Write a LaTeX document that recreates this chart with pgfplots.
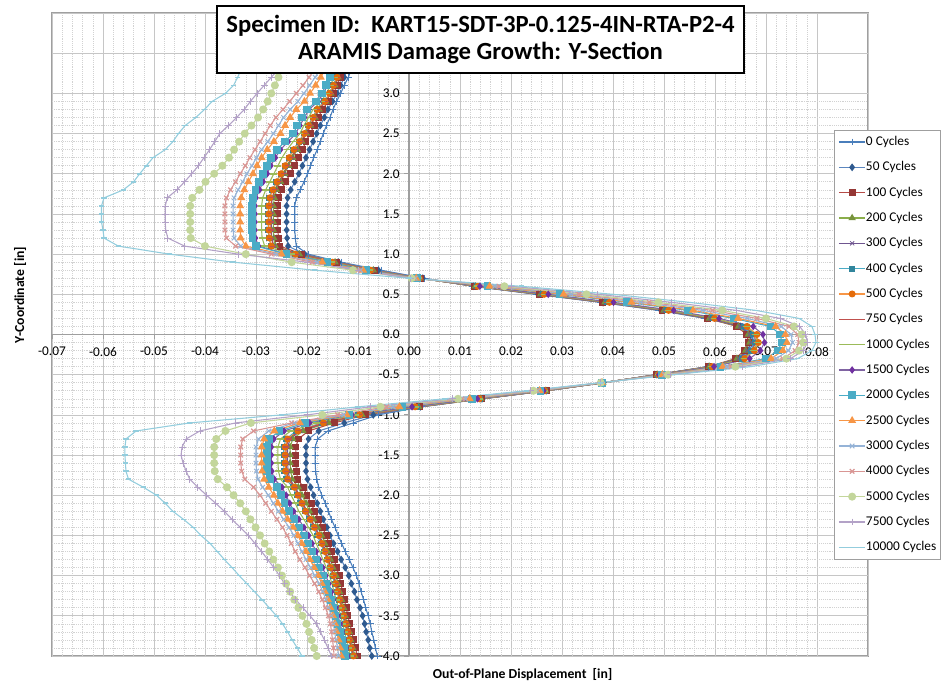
\documentclass[border=0pt]{standalone}
\usepackage{pgfplots}
\pgfplotsset{compat=1.18}
\usepackage{pgfplotstable}
\usepackage{fontspec}
\setmainfont{Carlito}
\definecolor{col0}{HTML}{4A7EBB}
\definecolor{col50}{HTML}{5B86BF}
\definecolor{col50m}{HTML}{2F5A8F}
\definecolor{col100}{HTML}{B54B47}
\definecolor{col100m}{HTML}{953735}
\definecolor{col200}{HTML}{8AAE4A}
\definecolor{col200m}{HTML}{77933C}
\definecolor{col300}{HTML}{6F5590}
\definecolor{col400}{HTML}{4BACC6}
\definecolor{col400m}{HTML}{31859C}
\definecolor{col500}{HTML}{F79646}
\definecolor{col500m}{HTML}{E46C0A}
\definecolor{col750}{HTML}{C0504D}
\definecolor{col1000}{HTML}{9BBB59}
\definecolor{col1500}{HTML}{8064A2}
\definecolor{col1500m}{HTML}{7030A0}
\definecolor{col2000}{HTML}{4BACC6}
\definecolor{col2500}{HTML}{F79646}
\definecolor{col3000}{HTML}{95B3D7}
\definecolor{col4000}{HTML}{D99694}
\definecolor{col5000}{HTML}{C3D69B}
\definecolor{col7500}{HTML}{B3A2C7}
\definecolor{col10000}{HTML}{93CDDD}

\pgfplotstableread{
y c0 c50 c100 c200 c300 c400 c500 c750 c1000 c1500 c2000 c2500 c3000 c4000 c5000 c7500 c10000
3.3 -0.0113 -0.0121 -0.0128 -0.0132 -0.0133 -0.0135 -0.0134 -0.0132 -0.0140 -0.0145 -0.0148 -0.0165 -0.0174 -0.0185 -0.0248 -0.0256 -0.0329
3.2 -0.0119 -0.0127 -0.0135 -0.0139 -0.0140 -0.0142 -0.0141 -0.0139 -0.0147 -0.0152 -0.0155 -0.0173 -0.0184 -0.0196 -0.0256 -0.0270 -0.0336
3.1 -0.0127 -0.0134 -0.0141 -0.0145 -0.0147 -0.0149 -0.0148 -0.0146 -0.0154 -0.0160 -0.0163 -0.0183 -0.0195 -0.0208 -0.0263 -0.0284 -0.0344
3.0 -0.0134 -0.0141 -0.0148 -0.0153 -0.0154 -0.0156 -0.0156 -0.0153 -0.0162 -0.0168 -0.0171 -0.0194 -0.0206 -0.0221 -0.0270 -0.0298 -0.0360
2.9 -0.0142 -0.0150 -0.0158 -0.0163 -0.0164 -0.0166 -0.0165 -0.0163 -0.0172 -0.0178 -0.0182 -0.0205 -0.0218 -0.0234 -0.0277 -0.0311 -0.0386
2.8 -0.0149 -0.0159 -0.0170 -0.0176 -0.0178 -0.0181 -0.0180 -0.0177 -0.0188 -0.0196 -0.0200 -0.0221 -0.0233 -0.0247 -0.0286 -0.0323 -0.0401
2.7 -0.0155 -0.0166 -0.0178 -0.0184 -0.0186 -0.0189 -0.0188 -0.0185 -0.0197 -0.0205 -0.0210 -0.0233 -0.0246 -0.0261 -0.0296 -0.0338 -0.0418
2.6 -0.0162 -0.0174 -0.0186 -0.0193 -0.0194 -0.0198 -0.0197 -0.0193 -0.0206 -0.0214 -0.0219 -0.0243 -0.0256 -0.0272 -0.0309 -0.0354 -0.0439
2.5 -0.0168 -0.0181 -0.0194 -0.0201 -0.0202 -0.0206 -0.0205 -0.0201 -0.0214 -0.0222 -0.0227 -0.0252 -0.0266 -0.0282 -0.0322 -0.0371 -0.0452
2.4 -0.0174 -0.0188 -0.0202 -0.0210 -0.0212 -0.0216 -0.0215 -0.0211 -0.0227 -0.0237 -0.0243 -0.0265 -0.0277 -0.0292 -0.0333 -0.0381 -0.0463
2.3 -0.0180 -0.0195 -0.0209 -0.0219 -0.0222 -0.0227 -0.0226 -0.0221 -0.0239 -0.0252 -0.0259 -0.0278 -0.0289 -0.0302 -0.0343 -0.0391 -0.0478
2.2 -0.0187 -0.0202 -0.0217 -0.0228 -0.0230 -0.0236 -0.0235 -0.0229 -0.0249 -0.0262 -0.0270 -0.0289 -0.0299 -0.0312 -0.0353 -0.0402 -0.0502
2.1 -0.0193 -0.0209 -0.0225 -0.0236 -0.0239 -0.0244 -0.0243 -0.0238 -0.0257 -0.0271 -0.0279 -0.0298 -0.0308 -0.0321 -0.0366 -0.0413 -0.0515
2.0 -0.0199 -0.0216 -0.0233 -0.0244 -0.0246 -0.0252 -0.0251 -0.0245 -0.0265 -0.0278 -0.0286 -0.0306 -0.0318 -0.0331 -0.0382 -0.0426 -0.0528
1.9 -0.0206 -0.0224 -0.0242 -0.0252 -0.0255 -0.0260 -0.0259 -0.0254 -0.0273 -0.0286 -0.0294 -0.0315 -0.0326 -0.0340 -0.0399 -0.0440 -0.0540
1.8 -0.0213 -0.0232 -0.0250 -0.0260 -0.0263 -0.0268 -0.0267 -0.0262 -0.0281 -0.0293 -0.0301 -0.0323 -0.0335 -0.0350 -0.0411 -0.0455 -0.0560
1.7 -0.0221 -0.0238 -0.0255 -0.0264 -0.0268 -0.0274 -0.0273 -0.0269 -0.0287 -0.0300 -0.0306 -0.0329 -0.0343 -0.0358 -0.0425 -0.0474 -0.0598
1.6 -0.0224 -0.0240 -0.0257 -0.0266 -0.0270 -0.0276 -0.0275 -0.0271 -0.0289 -0.0302 -0.0308 -0.0331 -0.0345 -0.0361 -0.0429 -0.0478 -0.0603
1.5 -0.0224 -0.0240 -0.0257 -0.0266 -0.0270 -0.0276 -0.0275 -0.0271 -0.0289 -0.0302 -0.0308 -0.0331 -0.0345 -0.0361 -0.0429 -0.0478 -0.0603
1.4 -0.0224 -0.0240 -0.0257 -0.0266 -0.0270 -0.0276 -0.0275 -0.0271 -0.0289 -0.0302 -0.0308 -0.0331 -0.0345 -0.0361 -0.0429 -0.0478 -0.0603
1.3 -0.0224 -0.0240 -0.0257 -0.0266 -0.0270 -0.0276 -0.0275 -0.0271 -0.0289 -0.0302 -0.0308 -0.0331 -0.0345 -0.0361 -0.0429 -0.0477 -0.0600
1.2 -0.0223 -0.0239 -0.0256 -0.0265 -0.0269 -0.0275 -0.0274 -0.0270 -0.0288 -0.0301 -0.0307 -0.0330 -0.0343 -0.0358 -0.0428 -0.0473 -0.0598
1.1 -0.0221 -0.0237 -0.0253 -0.0262 -0.0265 -0.0270 -0.0270 -0.0266 -0.0283 -0.0295 -0.0300 -0.0320 -0.0330 -0.0340 -0.0400 -0.0440 -0.0570
1.0 -0.0198 -0.0205 -0.0210 -0.0215 -0.0218 -0.0223 -0.0223 -0.0220 -0.0230 -0.0240 -0.0240 -0.0250 -0.0260 -0.0270 -0.0320 -0.0335 -0.0470
0.9 -0.0133 -0.0138 -0.0142 -0.0145 -0.0147 -0.0150 -0.0150 -0.0148 -0.0152 -0.0158 -0.0160 -0.0170 -0.0180 -0.0190 -0.0230 -0.0200 -0.0345
0.8 -0.0055 -0.0060 -0.0068 -0.0070 -0.0072 -0.0075 -0.0075 -0.0074 -0.0078 -0.0082 -0.0085 -0.0090 -0.0095 -0.0100 -0.0110 -0.0100 -0.0185
0.7 0.0030 0.0027 0.0023 0.0022 0.0022 0.0020 0.0020 0.0021 0.0019 0.0018 0.0016 0.0014 0.0012 0.0008 0.0005 0.0003 0.0000
0.6 0.0125 0.0127 0.0128 0.0130 0.0131 0.0133 0.0135 0.0133 0.0135 0.0139 0.0154 0.0158 0.0168 0.0177 0.0187 0.0201 0.0220
0.5 0.0250 0.0253 0.0255 0.0258 0.0259 0.0262 0.0265 0.0262 0.0265 0.0273 0.0295 0.0303 0.0318 0.0333 0.0348 0.0370 0.0400
0.4 0.0375 0.0379 0.0380 0.0384 0.0386 0.0389 0.0393 0.0389 0.0393 0.0401 0.0428 0.0436 0.0454 0.0471 0.0489 0.0515 0.0550
0.3 0.0490 0.0494 0.0496 0.0500 0.0501 0.0505 0.0509 0.0505 0.0509 0.0519 0.0547 0.0557 0.0576 0.0595 0.0614 0.0642 0.0680
0.2 0.0580 0.0584 0.0586 0.0589 0.0591 0.0595 0.0599 0.0595 0.0599 0.0608 0.0636 0.0645 0.0663 0.0682 0.0700 0.0728 0.0765
0.1 0.0653 0.0650 0.0643 0.0646 0.0649 0.0656 0.0663 0.0658 0.0661 0.0675 0.0709 0.0719 0.0730 0.0745 0.0755 0.0766 0.0790
0.0 0.0672 0.0669 0.0662 0.0665 0.0668 0.0675 0.0682 0.0677 0.0680 0.0694 0.0728 0.0738 0.0749 0.0762 0.0770 0.0778 0.0796
-0.1 0.0675 0.0672 0.0665 0.0668 0.0671 0.0678 0.0685 0.0680 0.0683 0.0697 0.0731 0.0741 0.0752 0.0765 0.0773 0.0781 0.0798
-0.2 0.0667 0.0664 0.0657 0.0660 0.0663 0.0670 0.0677 0.0672 0.0675 0.0689 0.0723 0.0733 0.0744 0.0757 0.0765 0.0773 0.0790
-0.3 0.0650 0.0647 0.0640 0.0643 0.0646 0.0652 0.0658 0.0654 0.0657 0.0668 0.0700 0.0710 0.0720 0.0733 0.0740 0.0748 0.0762
-0.4 0.0585 0.0587 0.0588 0.0589 0.0590 0.0592 0.0594 0.0592 0.0594 0.0598 0.0611 0.0615 0.0623 0.0632 0.0640 0.0653 0.0670
-0.5 0.0485 0.0486 0.0486 0.0487 0.0487 0.0488 0.0489 0.0488 0.0489 0.0490 0.0496 0.0497 0.0501 0.0504 0.0508 0.0513 0.0520
-0.6 0.0382 0.0381 0.0380 0.0380 0.0380 0.0380 0.0380 0.0380 0.0380 0.0379 0.0378 0.0378 0.0377 0.0377 0.0376 0.0376 0.0375
-0.7 0.0270 0.0269 0.0269 0.0268 0.0268 0.0267 0.0266 0.0267 0.0266 0.0264 0.0258 0.0256 0.0252 0.0248 0.0244 0.0238 0.0230
-0.8 0.0145 0.0143 0.0143 0.0141 0.0141 0.0139 0.0138 0.0139 0.0138 0.0134 0.0123 0.0119 0.0111 0.0104 0.0096 0.0085 0.0070
-0.9 0.0025 0.0022 0.0021 0.0019 0.0017 0.0015 0.0012 0.0015 0.0012 0.0006 -0.0013 -0.0019 -0.0031 -0.0044 -0.0056 -0.0075 -0.0100
-1.0 -0.0060 -0.0070 -0.0085 -0.0092 -0.0095 -0.0100 -0.0097 -0.0098 -0.0105 -0.0112 -0.0118 -0.0122 -0.0128 -0.0140 -0.0170 -0.0200 -0.0250
-1.1 -0.0109 -0.0127 -0.0147 -0.0158 -0.0163 -0.0171 -0.0168 -0.0166 -0.0182 -0.0195 -0.0204 -0.0214 -0.0225 -0.0230 -0.0310 -0.0340 -0.0430
-1.2 -0.0159 -0.0177 -0.0197 -0.0208 -0.0213 -0.0221 -0.0218 -0.0216 -0.0232 -0.0245 -0.0254 -0.0264 -0.0275 -0.0305 -0.0360 -0.0410 -0.0535
-1.3 -0.0179 -0.0197 -0.0217 -0.0228 -0.0233 -0.0241 -0.0238 -0.0236 -0.0252 -0.0265 -0.0274 -0.0284 -0.0295 -0.0326 -0.0378 -0.0437 -0.0555
-1.4 -0.0184 -0.0202 -0.0222 -0.0233 -0.0238 -0.0246 -0.0243 -0.0241 -0.0257 -0.0270 -0.0279 -0.0289 -0.0300 -0.0330 -0.0382 -0.0445 -0.0557
-1.5 -0.0184 -0.0202 -0.0222 -0.0233 -0.0238 -0.0246 -0.0243 -0.0241 -0.0257 -0.0270 -0.0279 -0.0289 -0.0300 -0.0330 -0.0382 -0.0447 -0.0557
-1.6 -0.0184 -0.0202 -0.0222 -0.0233 -0.0238 -0.0246 -0.0243 -0.0241 -0.0257 -0.0270 -0.0279 -0.0289 -0.0300 -0.0330 -0.0382 -0.0443 -0.0556
-1.7 -0.0183 -0.0202 -0.0221 -0.0232 -0.0237 -0.0245 -0.0242 -0.0240 -0.0256 -0.0269 -0.0278 -0.0288 -0.0299 -0.0328 -0.0381 -0.0437 -0.0555
-1.8 -0.0181 -0.0199 -0.0218 -0.0229 -0.0234 -0.0241 -0.0238 -0.0237 -0.0252 -0.0264 -0.0273 -0.0284 -0.0296 -0.0322 -0.0375 -0.0430 -0.0550
-1.9 -0.0177 -0.0193 -0.0207 -0.0217 -0.0223 -0.0228 -0.0225 -0.0224 -0.0238 -0.0249 -0.0259 -0.0275 -0.0287 -0.0305 -0.0357 -0.0414 -0.0521
-2.0 -0.0171 -0.0187 -0.0200 -0.0210 -0.0215 -0.0220 -0.0218 -0.0217 -0.0231 -0.0241 -0.0251 -0.0265 -0.0276 -0.0292 -0.0344 -0.0397 -0.0495
-2.1 -0.0164 -0.0180 -0.0192 -0.0202 -0.0208 -0.0213 -0.0210 -0.0209 -0.0223 -0.0234 -0.0244 -0.0257 -0.0266 -0.0281 -0.0331 -0.0379 -0.0478
-2.2 -0.0158 -0.0174 -0.0185 -0.0195 -0.0200 -0.0205 -0.0203 -0.0202 -0.0216 -0.0226 -0.0236 -0.0248 -0.0256 -0.0270 -0.0320 -0.0362 -0.0463
-2.3 -0.0152 -0.0168 -0.0177 -0.0187 -0.0192 -0.0197 -0.0194 -0.0193 -0.0206 -0.0216 -0.0226 -0.0238 -0.0246 -0.0259 -0.0311 -0.0347 -0.0442
-2.4 -0.0145 -0.0161 -0.0170 -0.0179 -0.0184 -0.0188 -0.0186 -0.0185 -0.0197 -0.0206 -0.0215 -0.0227 -0.0235 -0.0248 -0.0301 -0.0331 -0.0423
-2.5 -0.0139 -0.0155 -0.0162 -0.0171 -0.0175 -0.0180 -0.0177 -0.0177 -0.0188 -0.0197 -0.0206 -0.0218 -0.0226 -0.0239 -0.0292 -0.0315 -0.0408
-2.6 -0.0132 -0.0148 -0.0157 -0.0165 -0.0169 -0.0173 -0.0171 -0.0171 -0.0182 -0.0190 -0.0198 -0.0210 -0.0218 -0.0231 -0.0283 -0.0302 -0.0390
-2.7 -0.0125 -0.0140 -0.0152 -0.0160 -0.0163 -0.0167 -0.0165 -0.0165 -0.0175 -0.0182 -0.0190 -0.0202 -0.0210 -0.0223 -0.0274 -0.0289 -0.0376
-2.8 -0.0117 -0.0133 -0.0147 -0.0154 -0.0158 -0.0161 -0.0160 -0.0159 -0.0169 -0.0176 -0.0183 -0.0194 -0.0202 -0.0214 -0.0266 -0.0277 -0.0362
-2.9 -0.0110 -0.0125 -0.0142 -0.0149 -0.0152 -0.0156 -0.0154 -0.0153 -0.0162 -0.0169 -0.0176 -0.0186 -0.0193 -0.0204 -0.0257 -0.0265 -0.0347
-3.0 -0.0103 -0.0118 -0.0137 -0.0143 -0.0147 -0.0150 -0.0148 -0.0148 -0.0156 -0.0163 -0.0169 -0.0178 -0.0185 -0.0195 -0.0249 -0.0254 -0.0333
-3.1 -0.0098 -0.0113 -0.0134 -0.0140 -0.0143 -0.0146 -0.0144 -0.0144 -0.0151 -0.0157 -0.0163 -0.0171 -0.0176 -0.0185 -0.0241 -0.0244 -0.0318
-3.2 -0.0094 -0.0107 -0.0130 -0.0136 -0.0138 -0.0141 -0.0140 -0.0139 -0.0147 -0.0152 -0.0158 -0.0165 -0.0169 -0.0177 -0.0233 -0.0234 -0.0303
-3.3 -0.0089 -0.0102 -0.0127 -0.0132 -0.0135 -0.0137 -0.0136 -0.0136 -0.0143 -0.0148 -0.0153 -0.0159 -0.0163 -0.0170 -0.0225 -0.0222 -0.0288
-3.4 -0.0085 -0.0096 -0.0123 -0.0128 -0.0131 -0.0133 -0.0132 -0.0131 -0.0138 -0.0143 -0.0148 -0.0154 -0.0158 -0.0164 -0.0217 -0.0208 -0.0274
-3.5 -0.0080 -0.0091 -0.0120 -0.0125 -0.0127 -0.0130 -0.0128 -0.0128 -0.0134 -0.0139 -0.0144 -0.0149 -0.0152 -0.0158 -0.0209 -0.0194 -0.0260
-3.6 -0.0076 -0.0087 -0.0116 -0.0121 -0.0123 -0.0126 -0.0124 -0.0124 -0.0130 -0.0135 -0.0140 -0.0145 -0.0148 -0.0154 -0.0201 -0.0181 -0.0248
-3.7 -0.0073 -0.0084 -0.0112 -0.0117 -0.0119 -0.0122 -0.0120 -0.0120 -0.0126 -0.0131 -0.0136 -0.0142 -0.0146 -0.0152 -0.0196 -0.0174 -0.0238
-3.8 -0.0069 -0.0080 -0.0109 -0.0114 -0.0116 -0.0118 -0.0117 -0.0117 -0.0123 -0.0127 -0.0132 -0.0138 -0.0143 -0.0150 -0.0191 -0.0166 -0.0229
-3.9 -0.0066 -0.0077 -0.0105 -0.0110 -0.0112 -0.0114 -0.0113 -0.0113 -0.0119 -0.0123 -0.0128 -0.0135 -0.0140 -0.0148 -0.0186 -0.0159 -0.0219
-4.0 -0.0062 -0.0073 -0.0101 -0.0106 -0.0108 -0.0111 -0.0109 -0.0109 -0.0115 -0.0120 -0.0125 -0.0133 -0.0138 -0.0147 -0.0181 -0.0152 -0.0210
}\data

\begin{document}
\begin{tikzpicture}
\useasboundingbox (-39pt,-18.75pt) rectangle (669.75pt,492pt);
\fill[white] (-39pt,-18.75pt) rectangle (669.75pt,492pt);
\draw[gray!75, line width=0.9pt] (0,0) rectangle (612pt,482.25pt);
\begin{axis}[
  name=main, at={(0,0)}, anchor=south west,
  scale only axis, width=612pt, height=482.25pt,
  xmin=-0.07, xmax=0.09, ymin=-4, ymax=4,
  axis lines=middle,
  axis line style={-, gray!75, line width=0.9pt},
  xtick={-0.07,-0.06,-0.05,-0.04,-0.03,-0.02,-0.01,0,0.01,0.02,0.03,0.04,0.05,0.06,0.07,0.08},
  ytick={-4,-3.5,-3,-2.5,-2,-1.5,-1,-0.5,0,0.5,1,1.5,2,2.5,3},
  extra x ticks={0.09}, extra x tick labels={},
  extra y ticks={3.5,4}, extra y tick labels={},
  extra tick style={grid=major},
  minor x tick num=4, minor y tick num=4,
  grid=both,
  major grid style={gray!45, line width=0.5pt},
  minor grid style={gray!35, densely dotted, line width=0.45pt},
  tick align=outside, major tick length=3.5pt, minor tick length=0pt,
  tick style={gray!75, line width=0.6pt},
  /pgf/number format/assume math mode=true,
  xticklabel style={/pgf/number format/fixed, /pgf/number format/fixed zerofill, /pgf/number format/precision=2, font=\fontsize{10}{12}\selectfont, yshift=-2.5pt},
  yticklabel style={/pgf/number format/fixed, /pgf/number format/fixed zerofill, /pgf/number format/precision=1, font=\fontsize{10}{12}\selectfont},
  scaled x ticks=false, scaled y ticks=false,
  legend cell align=left,
  legend style={at={(0.9583,0.818)}, anchor=north west, draw=gray!75, fill=white,
    font=\fontsize{10}{12}\selectfont, inner xsep=3pt, inner ysep=4pt, row sep=9.5pt,
    nodes={inner sep=0pt, text height=7.5pt, text depth=2pt}},
  legend image code/.code={\draw[mark repeat=2,mark phase=2,#1] plot coordinates {(0pt,0pt) (10pt,0pt) (20pt,0pt)};},
  every axis plot/.append style={line width=0.8pt},
]
\addplot[col0, mark=+, mark size=2.6pt, mark options={solid,line width=0.6pt}] table[x=c0,y=y]{\data};
\addlegendentry{0 Cycles}
\addplot[col50, mark=diamond*, mark size=2.3pt, mark options={solid,draw=col50m,fill=col50m}] table[x=c50,y=y]{\data};
\addlegendentry{50 Cycles}
\addplot[col100, mark=square*, mark size=2.2pt, mark options={solid,draw=col100m,fill=col100m}] table[x=c100,y=y]{\data};
\addlegendentry{100 Cycles}
\addplot[col200, mark=triangle*, mark size=2.4pt, mark options={solid,draw=col200m,fill=col200m}] table[x=c200,y=y]{\data};
\addlegendentry{200 Cycles}
\addplot[col300, mark=x, mark size=2.2pt, mark options={solid,line width=0.6pt}] table[x=c300,y=y]{\data};
\addlegendentry{300 Cycles}
\addplot[col400, mark=square*, mark size=1.8pt, mark options={solid,draw=col400m,fill=col400m}] table[x=c400,y=y]{\data};
\addlegendentry{400 Cycles}
\addplot[col500, mark=*, mark size=2.2pt, mark options={solid,draw=col500m,fill=col500m}] table[x=c500,y=y]{\data};
\addlegendentry{500 Cycles}
\addplot[col750, mark=-, mark size=2.2pt, mark options={solid,line width=0.8pt}] table[x=c750,y=y]{\data};
\addlegendentry{750 Cycles}
\addplot[col1000, mark=-, mark size=2.6pt, mark options={solid,line width=1.2pt}] table[x=c1000,y=y]{\data};
\addlegendentry{1000 Cycles}
\addplot[col1500, mark=diamond*, mark size=2.2pt, mark options={solid,draw=col1500m,fill=col1500m}] table[x=c1500,y=y]{\data};
\addlegendentry{1500 Cycles}
\addplot[col2000, mark=square*, mark size=2.5pt, mark options={solid,draw=col2000,fill=col2000}] table[x=c2000,y=y]{\data};
\addlegendentry{2000 Cycles}
\addplot[col2500, mark=triangle*, mark size=2.7pt, mark options={solid,draw=col2500,fill=col2500}] table[x=c2500,y=y]{\data};
\addlegendentry{2500 Cycles}
\addplot[col3000, mark=x, mark size=2.4pt, mark options={solid,line width=0.7pt}] table[x=c3000,y=y]{\data};
\addlegendentry{3000 Cycles}
\addplot[col4000, mark=x, mark size=2.4pt, mark options={solid,line width=0.9pt}] table[x=c4000,y=y]{\data};
\addlegendentry{4000 Cycles}
\addplot[col5000, mark=*, mark size=2.6pt, mark options={solid,draw=col5000,fill=col5000}] table[x=c5000,y=y]{\data};
\addlegendentry{5000 Cycles}
\addplot[col7500, mark=+, mark size=2.6pt, mark options={solid,line width=0.6pt}] table[x=c7500,y=y]{\data};
\addlegendentry{7500 Cycles}
\addplot[col10000, mark=-, mark size=2pt, mark options={solid,line width=1.2pt}] table[x=c10000,y=y]{\data};
\addlegendentry{10000 Cycles}
\node[anchor=north, font=\fontsize{10}{12}\selectfont, yshift=-6pt] at (axis cs:0,0) {0.00};
\node[anchor=east, font=\fontsize{10}{12}\selectfont, xshift=-3.5pt] at (axis cs:0,0) {0.0};
\end{axis}
\node[draw=black, line width=1.5pt, fill=white, minimum width=395pt, minimum height=50pt, align=center, inner sep=2pt,
  font=\bfseries\fontsize{18.5}{20}\selectfont] at (321.4pt,462.4pt)
  {Specimen ID:\ \ KART15-SDT-3P-0.125-4IN-RTA-P2-4\\ARAMIS Damage Growth: Y-Section};
\node[font=\bfseries\fontsize{10.3}{12}\selectfont] at (353pt,-14pt) {Out-of-Plane Displacement\ \ [in]};
\node[rotate=90, font=\bfseries\fontsize{10.3}{12}\selectfont] at (-24pt,270.75pt) {Y-Coordinate [in]};
\end{tikzpicture}
\end{document}
